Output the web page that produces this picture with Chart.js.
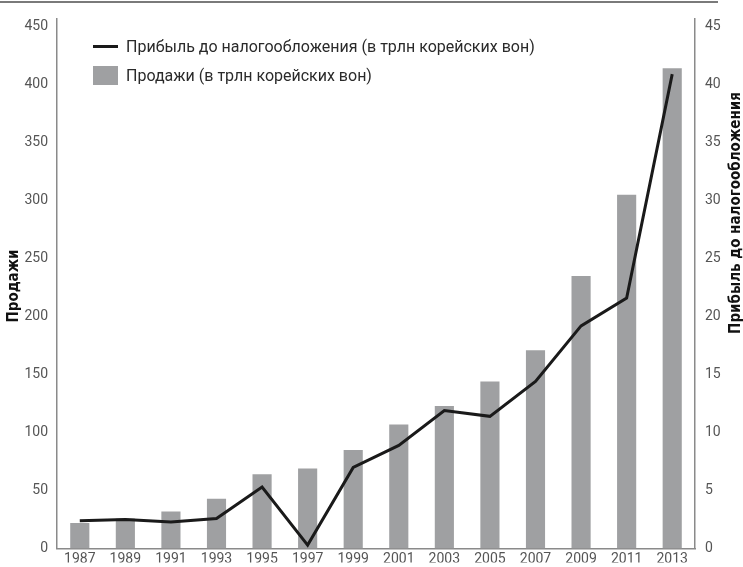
<!DOCTYPE html>
<html lang="ru">
<head>
<meta charset="utf-8">
<script src="https://cdn.jsdelivr.net/npm/chart.js@4/dist/chart.umd.min.js"></script>
<style>
  html, body { margin: 0; padding: 0; background: #fff; }
  #wrap { position: relative; width: 743px; height: 567px; }
  #topline { position: absolute; left: 0; top: 1px; width: 718px; height: 2px; background: #7a7a7a; }
  #legend { position: absolute; left: 93px; top: 32px; font-family: "Liberation Sans Narrow", Roboto, sans-serif; font-size: 16px; color: #2a2a2a; }
  #legend .item { display: flex; align-items: center; height: 29px; }
  #legend .sw { width: 25px; margin-right: 8px; }
</style>
</head>
<body>
<div id="wrap">
  <canvas id="samsungChart" width="743" height="567"></canvas>
  <div id="topline"></div>
  <div id="legend"></div>
</div>
<script>
  // годы
  var years = ['1987', '1989', '1991', '1993', '1995', '1997', '1999', '2001', '2003', '2005', '2007', '2009', '2011', '2013'];
  // продажи, трлн вон (левая ось)
  var sales = [22, 26, 32, 43, 64, 69, 85, 107, 123, 144, 171, 235, 305, 414];
  // прибыль до налогообложения, трлн вон (правая ось)
  var profit = [2.4, 2.5, 2.3, 2.6, 5.3, 0.3, 7.0, 8.9, 11.9, 11.4, 14.4, 19.2, 21.6, 40.9];
  // деления осей
  var salesTicks = [0, 50, 100, 150, 200, 250, 300, 350, 400, 450];
  var profitTicks = [0, 5, 10, 15, 20, 25, 30, 35, 40, 45];

  var salesLabel = 'Продажи (в трлн корейских вон)';
  var profitLabel = 'Прибыль до налогообложения (в трлн корейских вон)';
  var leftTitle = 'Продажи';
  var rightTitle = 'Прибыль до налогообложения';

  var tickFont = { family: '"Liberation Sans Narrow", Roboto, sans-serif', size: 14 };
  var axisColor = '#8a8a8a';
  var barColor = '#9fa0a2';
  var lineColor = '#1a1a1a';

  // легенда в столбик, как в оригинале
  var legendEl = document.getElementById('legend');
  legendEl.innerHTML =
    '<div class="item"><div class="sw" style="height:3px;background:' + lineColor + '"></div>' + profitLabel + '</div>' +
    '<div class="item"><div class="sw" style="height:19px;background:' + barColor + '"></div>' + salesLabel + '</div>';

  // подписи осей (правая читается снизу вверх)
  var axisTitles = {
    id: 'axisTitles',
    afterDraw: function (chart) {
      var ctx = chart.ctx;
      ctx.save();
      ctx.font = 'bold 15px "DejaVu Sans Condensed", "DejaVu Sans", sans-serif';
      ctx.fillStyle = '#111';
      ctx.textAlign = 'center';
      ctx.textBaseline = 'middle';
      ctx.translate(14, 286);
      ctx.rotate(-Math.PI / 2);
      ctx.fillText(leftTitle, 0, 0);
      ctx.restore();

      ctx.save();
      ctx.font = 'bold 15px "DejaVu Sans Condensed", "DejaVu Sans", sans-serif';
      ctx.fillStyle = '#111';
      ctx.textAlign = 'center';
      ctx.textBaseline = 'middle';
      ctx.translate(736, 213);
      ctx.rotate(-Math.PI / 2);
      ctx.fillText(rightTitle, 0, 0);
      ctx.restore();
    }
  };

  function fixedTicks(values) {
    return function (scale) {
      scale.ticks = values.map(function (v) { return { value: v }; });
    };
  }

  var ctx = document.getElementById('samsungChart').getContext('2d');
  new Chart(ctx, {
    type: 'bar',
    data: {
      labels: years,
      datasets: [
        {
          type: 'line',
          label: profitLabel,
          data: profit,
          yAxisID: 'y1',
          borderColor: lineColor,
          backgroundColor: lineColor,
          borderWidth: 3,
          pointRadius: 0,
          tension: 0,
          order: 0
        },
        {
          type: 'bar',
          label: salesLabel,
          data: sales,
          yAxisID: 'y',
          backgroundColor: barColor,
          borderWidth: 0,
          barPercentage: 0.42,
          categoryPercentage: 1,
          order: 1
        }
      ]
    },
    options: {
      responsive: false,
      animation: false,
      layout: { padding: { top: 8, left: 0, right: 0, bottom: 0 } },
      plugins: {
        legend: { display: false },
        tooltip: { enabled: false }
      },
      scales: {
        x: {
          grid: { display: false, drawTicks: false },
          border: { color: axisColor, width: 1.5 },
          ticks: { color: '#555', font: tickFont, padding: 2, maxRotation: 0, autoSkip: false },
          afterFit: function (s) { s.height = 14; }
        },
        y: {
          position: 'left',
          min: 0,
          max: 457,
          grid: { display: false, drawTicks: false },
          border: { color: axisColor, width: 1.5 },
          ticks: { color: '#555', font: tickFont, padding: 9 },
          afterBuildTicks: fixedTicks(salesTicks),
          afterFit: function (s) { s.width = 57; }
        },
        y1: {
          position: 'right',
          min: 0,
          max: 45.7,
          grid: { display: false, drawTicks: false },
          border: { color: axisColor, width: 1.5 },
          ticks: { color: '#555', font: tickFont, padding: 10 },
          afterBuildTicks: fixedTicks(profitTicks),
          afterFit: function (s) { s.width = 48; }
        }
      }
    },
    plugins: [axisTitles]
  });
</script>
</body>
</html>
